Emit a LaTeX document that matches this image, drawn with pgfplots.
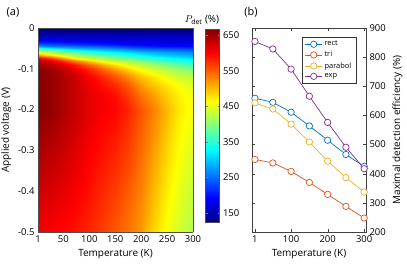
\documentclass[border=0pt]{standalone}
\usepackage{pgfplots}
\pgfplotsset{compat=1.18}
\usepackage{fontspec}
\setmainfont{Open Sans}
\definecolor{rectc}{RGB}{0,114,189}
\definecolor{tric}{RGB}{217,83,25}
\definecolor{parc}{RGB}{237,177,32}
\definecolor{expc}{RGB}{126,47,142}
\begin{document}
\begin{tikzpicture}[x=1bp,y=1bp]
\path[use as bounding box] (0,0) rectangle (407,267);
\pgfplotsset{
  every axis/.append style={
    tick label style={font=\fontsize{9.5}{10}\selectfont},
    label style={font=\fontsize{10}{11}\selectfont},
  }
}
\begin{axis}[
  at={(38bp,35bp)}, anchor=south west, scale only axis,
  width=155bp, height=204bp,
  view={0}{90},
  xmin=1, xmax=300, ymin=-0.5, ymax=0,
  xtick={1,50,100,150,200,250,300}, xticklabels={1,50,100,150,200,250,300},
  ytick={-0.5,-0.4,-0.3,-0.2,-0.1,0}, yticklabels={-0.5,-0.4,-0.3,-0.2,-0.1,0},
  major tick length=0pt, axis on top,
  axis line style={draw=black!70, line width=0.8pt},
  xlabel={Temperature (K)}, ylabel={Applied voltage (V)},
  colormap/jet, point meta min=125, point meta max=667,
  colorbar,
  colorbar style={
    at={(parent axis.north east)}, anchor=north west, xshift=4bp, yshift=-1bp,
    width=14bp, height=193bp,
    ytick={150,250,350,450,550,650}, yticklabels={150,250,350,450,550,650},
    major tick length=2bp, tick align=inside,
    axis line style={draw=black!70, line width=0.8pt},
    yticklabel style={font=\fontsize{9.5}{10}\selectfont},
  },
]
\addplot3[surf, shader=interp, mesh/cols=13, mesh/rows=26] table[row sep=\\] {
x y z\\
1 0 125\\ 25 0 125\\ 50 0 125\\ 75 0 125\\ 100 0 125\\ 125 0 125\\ 150 0 125\\ 175 0 125\\ 200 0 125\\ 225 0 125\\ 250 0 125\\ 275 0 125\\ 300 0 125\\
1 -0.01 135\\ 25 -0.01 135\\ 50 -0.01 136\\ 75 -0.01 136\\ 100 -0.01 136\\ 125 -0.01 137\\ 150 -0.01 137\\ 175 -0.01 137\\ 200 -0.01 137\\ 225 -0.01 138\\ 250 -0.01 138\\ 275 -0.01 138\\ 300 -0.01 138\\
1 -0.02 158\\ 25 -0.02 158\\ 50 -0.02 158\\ 75 -0.02 158\\ 100 -0.02 158\\ 125 -0.02 158\\ 150 -0.02 158\\ 175 -0.02 158\\ 200 -0.02 158\\ 225 -0.02 158\\ 250 -0.02 158\\ 275 -0.02 158\\ 300 -0.02 158\\
1 -0.03 185\\ 25 -0.03 183\\ 50 -0.03 181\\ 75 -0.03 180\\ 100 -0.03 179\\ 125 -0.03 177\\ 150 -0.03 176\\ 175 -0.03 175\\ 200 -0.03 174\\ 225 -0.03 173\\ 250 -0.03 173\\ 275 -0.03 173\\ 300 -0.03 172\\
1 -0.04 236\\ 25 -0.04 230\\ 50 -0.04 223\\ 75 -0.04 217\\ 100 -0.04 211\\ 125 -0.04 205\\ 150 -0.04 199\\ 175 -0.04 193\\ 200 -0.04 190\\ 225 -0.04 188\\ 250 -0.04 187\\ 275 -0.04 187\\ 300 -0.04 186\\
1 -0.045 274\\ 25 -0.045 260\\ 50 -0.045 254\\ 75 -0.045 248\\ 100 -0.045 242\\ 125 -0.045 236\\ 150 -0.045 227\\ 175 -0.045 217\\ 200 -0.045 210\\ 225 -0.045 204\\ 250 -0.045 199\\ 275 -0.045 198\\ 300 -0.045 193\\
1 -0.05 342\\ 25 -0.05 318\\ 50 -0.05 300\\ 75 -0.05 286\\ 100 -0.05 276\\ 125 -0.05 267\\ 150 -0.05 260\\ 175 -0.05 248\\ 200 -0.05 238\\ 225 -0.05 232\\ 250 -0.05 227\\ 275 -0.05 224\\ 300 -0.05 219\\
1 -0.055 400\\ 25 -0.055 377\\ 50 -0.055 350\\ 75 -0.055 330\\ 100 -0.055 314\\ 125 -0.055 302\\ 150 -0.055 292\\ 175 -0.055 279\\ 200 -0.055 266\\ 225 -0.055 260\\ 250 -0.055 254\\ 275 -0.055 250\\ 300 -0.055 245\\
1 -0.06 453\\ 25 -0.06 427\\ 50 -0.06 400\\ 75 -0.06 374\\ 100 -0.06 353\\ 125 -0.06 337\\ 150 -0.06 324\\ 175 -0.06 311\\ 200 -0.06 295\\ 225 -0.06 285\\ 250 -0.06 278\\ 275 -0.06 272\\ 300 -0.06 267\\
1 -0.065 517\\ 25 -0.065 477\\ 50 -0.065 440\\ 75 -0.065 413\\ 100 -0.065 392\\ 125 -0.065 372\\ 150 -0.065 355\\ 175 -0.065 341\\ 200 -0.065 324\\ 225 -0.065 310\\ 250 -0.065 299\\ 275 -0.065 291\\ 300 -0.065 285\\
1 -0.07 577\\ 25 -0.07 540\\ 50 -0.07 486\\ 75 -0.07 445\\ 100 -0.07 421\\ 125 -0.07 404\\ 150 -0.07 387\\ 175 -0.07 368\\ 200 -0.07 350\\ 225 -0.07 334\\ 250 -0.07 321\\ 275 -0.07 311\\ 300 -0.07 302\\
1 -0.075 615\\ 25 -0.075 590\\ 50 -0.075 538\\ 75 -0.075 483\\ 100 -0.075 448\\ 125 -0.075 426\\ 150 -0.075 411\\ 175 -0.075 395\\ 200 -0.075 375\\ 225 -0.075 356\\ 250 -0.075 342\\ 275 -0.075 330\\ 300 -0.075 320\\
1 -0.08 640\\ 25 -0.08 613\\ 50 -0.08 577\\ 75 -0.08 535\\ 100 -0.08 495\\ 125 -0.08 460\\ 150 -0.08 435\\ 175 -0.08 414\\ 200 -0.08 398\\ 225 -0.08 380\\ 250 -0.08 362\\ 275 -0.08 348\\ 300 -0.08 336\\
1 -0.09 650\\ 25 -0.09 640\\ 50 -0.09 615\\ 75 -0.09 585\\ 100 -0.09 550\\ 125 -0.09 515\\ 150 -0.09 482\\ 175 -0.09 455\\ 200 -0.09 432\\ 225 -0.09 414\\ 250 -0.09 398\\ 275 -0.09 382\\ 300 -0.09 366\\
1 -0.1 660\\ 25 -0.1 650\\ 50 -0.1 630\\ 75 -0.1 605\\ 100 -0.1 578\\ 125 -0.1 548\\ 150 -0.1 515\\ 175 -0.1 485\\ 200 -0.1 458\\ 225 -0.1 436\\ 250 -0.1 420\\ 275 -0.1 407\\ 300 -0.1 394\\
1 -0.11 662\\ 25 -0.11 654\\ 50 -0.11 638\\ 75 -0.11 618\\ 100 -0.11 592\\ 125 -0.11 565\\ 150 -0.11 538\\ 175 -0.11 508\\ 200 -0.11 478\\ 225 -0.11 459\\ 250 -0.11 440\\ 275 -0.11 421\\ 300 -0.11 412\\
1 -0.12 663\\ 25 -0.12 656\\ 50 -0.12 642\\ 75 -0.12 624\\ 100 -0.12 602\\ 125 -0.12 580\\ 150 -0.12 556\\ 175 -0.12 528\\ 200 -0.12 496\\ 225 -0.12 475\\ 250 -0.12 456\\ 275 -0.12 436\\ 300 -0.12 428\\
1 -0.14 664\\ 25 -0.14 657\\ 50 -0.14 643\\ 75 -0.14 626\\ 100 -0.14 608\\ 125 -0.14 592\\ 150 -0.14 578\\ 175 -0.14 552\\ 200 -0.14 518\\ 225 -0.14 495\\ 250 -0.14 475\\ 275 -0.14 460\\ 300 -0.14 446\\
1 -0.17 664\\ 25 -0.17 657\\ 50 -0.17 643\\ 75 -0.17 627\\ 100 -0.17 612\\ 125 -0.17 602\\ 150 -0.17 594\\ 175 -0.17 570\\ 200 -0.17 540\\ 225 -0.17 517\\ 250 -0.17 492\\ 275 -0.17 470\\ 300 -0.17 457\\
1 -0.2 663\\ 25 -0.2 657\\ 50 -0.2 643\\ 75 -0.2 628\\ 100 -0.2 613\\ 125 -0.2 604\\ 150 -0.2 597\\ 175 -0.2 580\\ 200 -0.2 555\\ 225 -0.2 530\\ 250 -0.2 500\\ 275 -0.2 472\\ 300 -0.2 459\\
1 -0.25 653\\ 25 -0.25 648\\ 50 -0.25 635\\ 75 -0.25 622\\ 100 -0.25 608\\ 125 -0.25 598\\ 150 -0.25 590\\ 175 -0.25 573\\ 200 -0.25 549\\ 225 -0.25 523\\ 250 -0.25 493\\ 275 -0.25 467\\ 300 -0.25 453\\
1 -0.3 644\\ 25 -0.3 638\\ 50 -0.3 627\\ 75 -0.3 615\\ 100 -0.3 602\\ 125 -0.3 592\\ 150 -0.3 582\\ 175 -0.3 566\\ 200 -0.3 543\\ 225 -0.3 515\\ 250 -0.3 486\\ 275 -0.3 461\\ 300 -0.3 446\\
1 -0.35 634\\ 25 -0.35 629\\ 50 -0.35 620\\ 75 -0.35 609\\ 100 -0.35 597\\ 125 -0.35 586\\ 150 -0.35 575\\ 175 -0.35 559\\ 200 -0.35 537\\ 225 -0.35 508\\ 250 -0.35 479\\ 275 -0.35 456\\ 300 -0.35 440\\
1 -0.4 624\\ 25 -0.4 620\\ 50 -0.4 612\\ 75 -0.4 602\\ 100 -0.4 591\\ 125 -0.4 579\\ 150 -0.4 568\\ 175 -0.4 551\\ 200 -0.4 530\\ 225 -0.4 500\\ 250 -0.4 472\\ 275 -0.4 451\\ 300 -0.4 433\\
1 -0.45 615\\ 25 -0.45 610\\ 50 -0.45 604\\ 75 -0.45 596\\ 100 -0.45 586\\ 125 -0.45 573\\ 150 -0.45 560\\ 175 -0.45 544\\ 200 -0.45 524\\ 225 -0.45 493\\ 250 -0.45 465\\ 275 -0.45 445\\ 300 -0.45 427\\
1 -0.5 605\\ 25 -0.5 601\\ 50 -0.5 596\\ 75 -0.5 589\\ 100 -0.5 580\\ 125 -0.5 567\\ 150 -0.5 553\\ 175 -0.5 537\\ 200 -0.5 518\\ 225 -0.5 485\\ 250 -0.5 458\\ 275 -0.5 440\\ 300 -0.5 420\\
};
\end{axis}
\node[font=\fontsize{10}{11}\selectfont] at (202,247) {$P_{\mathrm{det}}$ (\%)};
\node[font=\fontsize{11}{12}\selectfont] at (13,255) {(a)};
\node[font=\fontsize{11}{12}\selectfont] at (251,255) {(b)};
\begin{axis}[
  at={(252bp,35bp)}, anchor=south west, scale only axis,
  width=114bp, height=204bp,
  xmin=-7, xmax=305, ymin=200, ymax=900,
  xtick={1,100,200,300}, xticklabels={1,100,200,300},
  ytick={200,300,400,500,600,700,800,900}, yticklabels={200,300,400,500,600,700,800,900},
  yticklabel pos=right, ylabel near ticks,
  xlabel={Temperature (K)}, ylabel={Maximal detection efficiency (\%)},
  major tick length=3bp,
  axis line style={draw=black!75, line width=0.8pt}, tick style={black!75},
  legend style={at={(0.435,0.957)}, anchor=north west, font=\fontsize{7.5}{8.5}\selectfont,
    draw=black!80, line width=0.6pt, row sep=0pt, inner xsep=3pt, inner ysep=2pt},
  legend cell align=left,
]
\addplot[color=rectc, line width=0.7pt, mark=*, mark size=3.2bp, mark options={fill=white, draw=rectc}]
  coordinates {(1,659) (50,645) (100,611) (150,564) (200,515) (250,466) (300,425)};
\addlegendentry{rect}
\addplot[color=tric, line width=0.7pt, mark=*, mark size=3.2bp, mark options={fill=white, draw=tric}]
  coordinates {(1,449) (50,437) (100,408) (150,370) (200,329) (250,288) (300,248)};
\addlegendentry{tri}
\addplot[color=parc, line width=0.7pt, mark=*, mark size=3.2bp, mark options={fill=white, draw=parc}]
  coordinates {(1,643) (50,622) (100,570) (150,509) (200,443) (250,387) (300,337)};
\addlegendentry{parabol}
\addplot[color=expc, line width=0.7pt, mark=*, mark size=3.2bp, mark options={fill=white, draw=expc}]
  coordinates {(1,854) (50,828) (100,759) (150,666) (200,576) (250,491) (300,417)};
\addlegendentry{exp}
\end{axis}
\end{tikzpicture}
\end{document}
